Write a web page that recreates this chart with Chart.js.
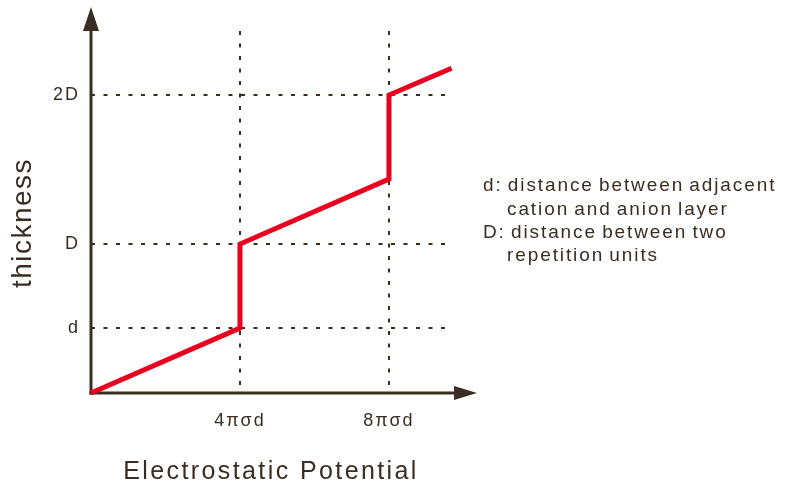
<!DOCTYPE html>
<html>
<head>
<meta charset="utf-8">
<script src="https://cdn.jsdelivr.net/npm/chart.js@4.4.1/dist/chart.umd.min.js"></script>
<style>
  html, body { margin: 0; padding: 0; background: #ffffff; }
  #wrap { width: 785px; height: 490px; position: relative; }
</style>
</head>
<body>
<div id="wrap"><canvas id="c" width="785" height="490"></canvas></div>
<script>
// Potential in units of 4πσd, thickness in units of D
const potential = [0, 1, 1, 2, 2, 2.42];
const thickness = [0, 0.436, 1, 1.436, 2, 2.18];

const xTickValues = [1, 2];
const xTickLabels = ['4πσd', '8πσd'];
const yTickValues = [0.436, 1, 2];
const yTickLabels = ['d', 'D', '2D'];

const xTitle = 'Electrostatic Potential';
const yTitle = 'thickness';
const noteLines = [
  'd: distance between adjacent',
  'cation and anion layer',
  'D: distance between two',
  'repetition units'
];

const INK = '#3a2d22';
const RED = '#e8001e';
const FONT = '"Liberation Sans", Arial, sans-serif';

// Axes with arrow heads, drawn beneath the curve
const arrowAxes = {
  id: 'arrowAxes',
  beforeDatasetsDraw(chart) {
    const { ctx } = chart;
    const xs = chart.scales.x, ys = chart.scales.y;
    const ox = xs.getPixelForValue(0), oy = ys.getPixelForValue(0);
    ctx.save();
    ctx.strokeStyle = INK;
    ctx.fillStyle = INK;
    ctx.lineWidth = 3;
    ctx.lineCap = 'butt';
    // vertical axis
    ctx.beginPath();
    ctx.moveTo(ox, oy + 1.5);
    ctx.lineTo(ox, 28);
    ctx.stroke();
    ctx.beginPath();
    ctx.moveTo(ox, 7);
    ctx.lineTo(ox - 8, 31);
    ctx.lineTo(ox + 8, 31);
    ctx.closePath();
    ctx.fill();
    // horizontal axis
    ctx.beginPath();
    ctx.moveTo(ox - 1.5, oy);
    ctx.lineTo(457, oy);
    ctx.stroke();
    ctx.beginPath();
    ctx.moveTo(477, oy);
    ctx.lineTo(454, oy - 7);
    ctx.lineTo(454, oy + 7);
    ctx.closePath();
    ctx.fill();
    ctx.restore();
  }
};

// Tracked text: axis titles and the note on the right
const trackedText = {
  id: 'trackedText',
  beforeDraw(chart) {
    chart.ctx.letterSpacing = '2px';
  },
  afterDraw(chart) {
    const { ctx } = chart;
    ctx.save();
    ctx.fillStyle = INK;
    ctx.textBaseline = 'middle';

    ctx.font = '25px ' + FONT;
    ctx.letterSpacing = '2.4px';
    ctx.textAlign = 'center';
    ctx.fillText(xTitle, 271, 472);

    ctx.save();
    ctx.translate(23, 223);
    ctx.rotate(-Math.PI / 2);
    ctx.font = '28px ' + FONT;
    ctx.letterSpacing = '1.5px';
    ctx.fillText(yTitle, 0, 0);
    ctx.restore();

    ctx.font = '19px ' + FONT;
    ctx.letterSpacing = '1.9px';
    ctx.wordSpacing = '-2px';
    ctx.textAlign = 'left';
    const indent = [0, 24, 0, 24];
    noteLines.forEach((t, i) => {
      ctx.fillText(t, 483 + indent[i], 186 + i * 23.3);
    });
    ctx.restore();
    ctx.letterSpacing = '0px';
  }
};

new Chart(document.getElementById('c'), {
  type: 'line',
  data: {
    datasets: [{
      data: potential.map((x, i) => ({ x, y: thickness[i] })),
      borderColor: RED,
      borderWidth: 5,
      borderJoinStyle: 'miter',
      borderCapStyle: 'butt',
      pointRadius: 0,
      tension: 0,
      fill: false,
      clip: false
    }]
  },
  options: {
    responsive: false,
    animation: false,
    events: [],
    layout: { padding: { left: 0, top: 31, right: 333, bottom: 0 } },
    plugins: { legend: { display: false }, tooltip: { enabled: false } },
    scales: {
      x: {
        type: 'linear',
        min: 0,
        max: 2.423,
        afterFit(scale) { scale.height = 97; },
        afterBuildTicks(scale) { scale.ticks = xTickValues.map(v => ({ value: v })); },
        ticks: {
          callback: (v, i) => xTickLabels[i],
          color: INK,
          font: { family: FONT, size: 18 },
          padding: 17,
          maxRotation: 0,
          autoSkip: false
        },
        grid: { color: INK, lineWidth: 2, drawTicks: false },
        border: { display: false, dash: [4, 8.5] }
      },
      y: {
        type: 'linear',
        min: 0,
        max: 2.43,
        afterFit(scale) { scale.width = 91; },
        afterBuildTicks(scale) { scale.ticks = yTickValues.map(v => ({ value: v })); },
        ticks: {
          callback: (v, i) => yTickLabels[i],
          color: INK,
          font: { family: FONT, size: 18 },
          padding: 11,
          autoSkip: false
        },
        grid: { color: INK, lineWidth: 2, drawTicks: false },
        border: { display: false, dash: [4, 8.5] }
      }
    }
  },
  plugins: [arrowAxes, trackedText]
});
</script>
</body>
</html>
